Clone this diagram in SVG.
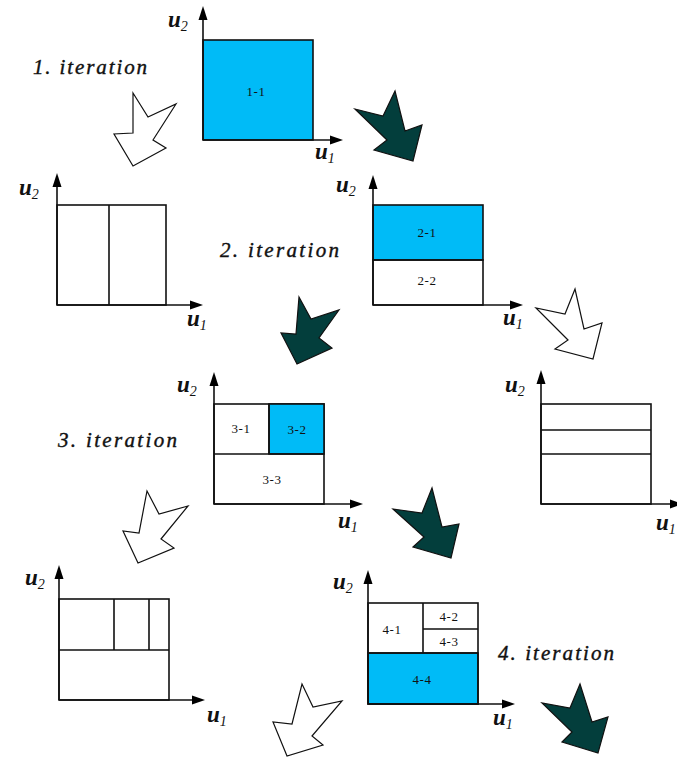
<svg xmlns="http://www.w3.org/2000/svg" width="677" height="757" viewBox="0 0 677 757">
<defs>
<style>
.bx{fill:none;stroke:#111;stroke-width:1.6}
.bl{fill:#00BBF7;stroke:#111;stroke-width:1.6}
.ax{stroke:#111;stroke-width:1.6;fill:none}
.ah{fill:#000}
.lb{font-family:"Liberation Serif",serif;font-size:13px;fill:#111;text-anchor:middle;letter-spacing:0.5px}
.it{font-family:"Liberation Serif",serif;font-style:italic;font-size:21px;fill:#111;stroke:#111;stroke-width:0.4}
.u{font-family:"Liberation Serif",serif;font-style:italic;font-weight:bold;font-size:23px;fill:#111}
.s{font-family:"Liberation Serif",serif;font-style:italic;font-size:14px;font-weight:normal}
.wa{fill:#fff;stroke:#111;stroke-width:1.2;stroke-linejoin:miter}
.da{fill:#033E3C;stroke:#111;stroke-width:1.2}
</style>
</defs>

<g id="connectors">
<polygon class="wa" points="133,93 148,117 176,104 153,140 166,148 133,166 114,134 133,133"/>
<polygon class="da" points="395,91 405,131 422,125 413,161 374,150 387,140 355,109 383,116"/>
<polygon class="da" points="299,297 311,319 339,310 319,338 332,348 297,364 281,333 296,334"/>
<polygon class="wa" points="575,289 584,329 602,323 593,359 555,349 568,340 536,308 565,314"/>
<polygon class="wa" points="147,491 159,514 188,506 161,539 174,548 138,563 123,531 139,533"/>
<polygon class="da" points="432,488 442,527 459,524 451,558 413,547 424,537 393,509 422,513"/>
<polygon class="wa" points="302,684 313,707 342,701 312,736 323,745 287,756 273,722 292,724"/>
<polygon class="da" points="580,684 592,722 608,717 598,753 562,742 572,732 542,703 570,708"/>
</g>

<g id="labels">
<text class="it" x="33" y="74" textLength="114" lengthAdjust="spacing">1. iteration</text>
<text class="it" x="220" y="257" textLength="119" lengthAdjust="spacing">2. iteration</text>
<text class="it" x="58" y="447" textLength="119" lengthAdjust="spacing">3. iteration</text>
<text class="it" x="498" y="660" textLength="116" lengthAdjust="spacing">4. iteration</text>
</g>

<g id="panel1">
<rect class="bl" x="203" y="40" width="110" height="100"/>
<path class="ax" d="M203,140 V18 M203,140 H332"/>
<polygon class="ah" points="203,6 198.5,20 207.5,20"/>
<polygon class="ah" points="343,140 330,135.5 330,144.5"/>
<text class="lb" x="256" y="96">1-1</text>
<text class="u" x="168" y="27">u<tspan class="s" dy="4">2</tspan></text>
<text class="u" x="315" y="159">u<tspan class="s" dy="4">1</tspan></text>
</g>

<g id="panel2a">
<rect class="bx" x="57" y="205" width="109" height="100"/>
<path class="ax" d="M109,205 V305 M57,305 V185 M57,305 H192"/>
<polygon class="ah" points="57,173 52.5,187 61.5,187"/>
<polygon class="ah" points="203,305 190,300.5 190,309.5"/>
<text class="u" x="19" y="195">u<tspan class="s" dy="4">2</tspan></text>
<text class="u" x="187" y="326">u<tspan class="s" dy="4">1</tspan></text>
</g>

<g id="panel2b">
<rect class="bl" x="373" y="205" width="110" height="55"/>
<rect class="bx" x="373" y="260" width="110" height="45"/>
<path class="ax" d="M373,305 V187 M373,305 H512"/>
<polygon class="ah" points="373,175 368.5,189 377.5,189"/>
<polygon class="ah" points="523,305 510,300.5 510,309.5"/>
<text class="lb" x="427" y="237">2-1</text>
<text class="lb" x="427" y="285">2-2</text>
<text class="u" x="336" y="192">u<tspan class="s" dy="4">2</tspan></text>
<text class="u" x="503" y="325">u<tspan class="s" dy="4">1</tspan></text>
</g>

<g id="panel3a">
<rect class="bx" x="214" y="404" width="110" height="100"/>
<rect class="bl" x="269" y="404" width="55" height="50"/>
<path class="ax" d="M269,404 V454 M214,454 H324 M214,504 V384 M214,504 H352"/>
<polygon class="ah" points="214,372 209.5,386 218.5,386"/>
<polygon class="ah" points="363,504 350,499.5 350,508.5"/>
<text class="lb" x="241" y="433">3-1</text>
<text class="lb" x="297" y="434">3-2</text>
<text class="lb" x="272" y="484">3-3</text>
<text class="u" x="177" y="392">u<tspan class="s" dy="4">2</tspan></text>
<text class="u" x="338" y="528">u<tspan class="s" dy="4">1</tspan></text>
</g>

<g id="panel3b">
<rect class="bx" x="541" y="404" width="110" height="100"/>
<path class="ax" d="M541,430 H651 M541,454 H651 M541,504 V382 M541,504 H672"/>
<polygon class="ah" points="541,370 536.5,384 545.5,384"/>
<polygon class="ah" points="683,504 670,499.5 670,508.5"/>
<text class="u" x="505" y="392">u<tspan class="s" dy="4">2</tspan></text>
<text class="u" x="656" y="530">u<tspan class="s" dy="4">1</tspan></text>
</g>

<g id="panel4a">
<rect class="bx" x="59" y="599" width="110" height="101"/>
<path class="ax" d="M114,599 V650 M149,599 V650 M59,650 H169 M59,700 V577 M59,700 H194"/>
<polygon class="ah" points="59,565 54.5,579 63.5,579"/>
<polygon class="ah" points="205,700 192,695.5 192,704.5"/>
<text class="u" x="25" y="585">u<tspan class="s" dy="4">2</tspan></text>
<text class="u" x="207" y="722">u<tspan class="s" dy="4">1</tspan></text>
</g>

<g id="panel4b">
<rect class="bl" x="368" y="653" width="110" height="51"/>
<rect class="bx" x="368" y="603" width="110" height="101"/>
<path class="ax" d="M423,603 V653 M423,629 H478 M368,653 H478 M368,704 V582 M368,704 H504"/>
<polygon class="ah" points="368,570 363.5,584 372.5,584"/>
<polygon class="ah" points="515,704 502,699.5 502,708.5"/>
<text class="lb" x="392" y="634">4-1</text>
<text class="lb" x="449" y="621">4-2</text>
<text class="lb" x="449" y="646">4-3</text>
<text class="lb" x="422" y="684">4-4</text>
<text class="u" x="333" y="589">u<tspan class="s" dy="4">2</tspan></text>
<text class="u" x="493" y="725">u<tspan class="s" dy="4">1</tspan></text>
</g>
</svg>
